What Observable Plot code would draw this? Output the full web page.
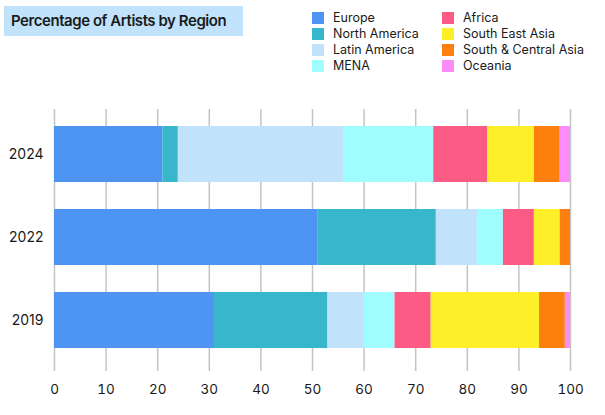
<!DOCTYPE html>
<html>
<head>
<meta charset="utf-8">
<script src="https://cdn.jsdelivr.net/npm/d3@7"></script>
<script src="https://cdn.jsdelivr.net/npm/@observablehq/plot@0.6"></script>
<style>
  html, body { margin: 0; padding: 0; background: #fff; }
  body { width: 605px; height: 415px; overflow: hidden; font-family: Inter, "Noto Sans", sans-serif; color: #1a1a1a; }
  #header { position: relative; height: 100px; }
  #title { position: absolute; left: 4px; top: 6px; width: 239px; height: 30px; background: #c0e3fb;
           font-size: 15px; font-weight: 600; line-height: 30px; text-indent: 7px; white-space: nowrap; letter-spacing: -0.45px; }
  .lg { position: absolute; font-size: 12.5px; line-height: 16px; white-space: nowrap; }
  .sw { display: inline-block; width: 12px; height: 12px; vertical-align: -2px; margin-right: 9px; }
  #chart svg { display: block; }
</style>
</head>
<body>
<div id="header">
  <div id="title">Percentage of Artists by Region</div>
  <div id="legend"></div>
</div>
<div id="chart"></div>
<script>
const years = ["2024", "2022", "2019"];
const regions = ["Europe", "North America", "Latin America", "MENA", "Africa", "South East Asia", "South & Central Asia", "Oceania"];
const colors = ["#4e94f3", "#38b6cb", "#c0e3fb", "#9ffdfd", "#fc5b85", "#fdf029", "#fd800f", "#fd8cf9"];
// values per region, in the order of years [2024, 2022, 2019]
const europe = [21, 51, 31];
const northAmerica = [3, 23, 22];
const latinAmerica = [32, 8, 7];
const mena = [17.5, 5, 6];
const africa = [10.5, 6, 7];
const southEastAsia = [9, 5, 21];
const southCentralAsia = [5, 2, 5];
const oceania = [2, 0, 1];
const xTicks = [0, 10, 20, 30, 40, 50, 60, 70, 80, 90, 100];

const series = [europe, northAmerica, latinAmerica, mena, africa, southEastAsia, southCentralAsia, oceania];
const data = [];
regions.forEach((r, i) => years.forEach((y, j) => data.push({region: r, year: y, value: series[i][j]})));

// legend (two columns of four)
const legend = document.getElementById("legend");
regions.forEach((r, i) => {
  const col = Math.floor(i / 4), row = i % 4;
  const d = document.createElement("div");
  d.className = "lg";
  d.style.left = (col === 0 ? 312 : 442) + "px";
  d.style.top = (10 + row * 16) + "px";
  d.innerHTML = `<span class="sw" style="background:${colors[i]}"></span>`;
  d.appendChild(document.createTextNode(r));
  legend.appendChild(d);
});

const chart = Plot.plot({
  width: 605,
  height: 315,
  marginTop: 9,
  marginBottom: 44,
  marginLeft: 54,
  marginRight: 35,
  style: {fontFamily: "Inter, 'Noto Sans', sans-serif", fontSize: "13px", color: "#1a1a1a", background: "#fff"},
  x: {domain: [0, 100], ticks: xTicks, label: null},
  y: {domain: years, paddingInner: 0.32, paddingOuter: 0.19, insetBottom: 5, label: null},
  color: {domain: regions, range: colors},
  marks: [
    Plot.gridX(xTicks, {stroke: "#c4c4c4", strokeOpacity: 1, strokeWidth: 1.5}),
    Plot.barX(data, {y: "year", x: "value", fill: "region", order: regions}),
    Plot.axisX({ticks: xTicks, tickSize: 0, tickPadding: 13, fontSize: 13.5, label: null, style: "letter-spacing:0.8px"}),
    Plot.axisY({tickSize: 0, tickPadding: 11, fontSize: 14, label: null})
  ]
});
document.getElementById("chart").appendChild(chart);
</script>
</body>
</html>
